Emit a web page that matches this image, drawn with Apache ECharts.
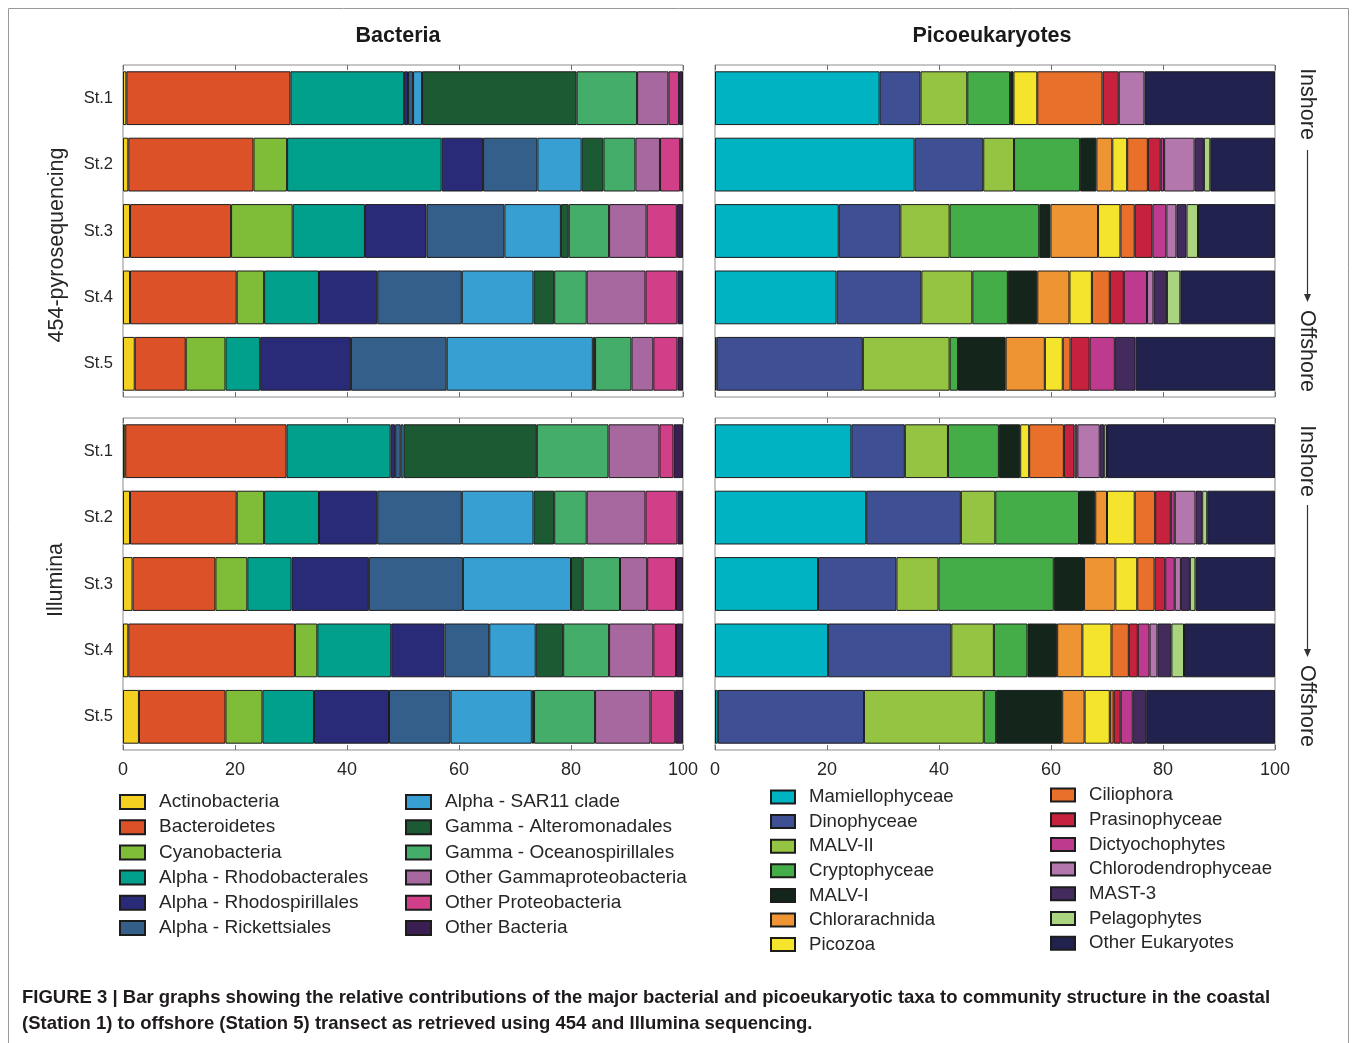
<!DOCTYPE html>
<html>
<head>
<meta charset="utf-8">
<title>Bacteria and picoeukaryote community composition</title>
<script src="https://cdn.jsdelivr.net/npm/echarts/dist/echarts.min.js"></script>
<style>
  html, body { margin: 0; padding: 0; background: #ffffff; }
  #chart { width: 1357px; height: 1043px; }
</style>
</head>
<body>
<div id="chart"></div>
<script>
// Stations along the transect (inshore -> offshore)
const stations = ['St.1', 'St.2', 'St.3', 'St.4', 'St.5'];

// Bacterial taxa and their colours
const bacTaxa = [
  'Actinobacteria', 'Bacteroidetes', 'Cyanobacteria', 'Alpha - Rhodobacterales',
  'Alpha - Rhodospirillales', 'Alpha - Rickettsiales', 'Alpha - SAR11 clade',
  'Gamma - Alteromonadales', 'Gamma - Oceanospirillales', 'Other Gammaproteobacteria',
  'Other Proteobacteria', 'Other Bacteria'
];
const bacColors = [
  '#f4d020', '#dd5128', '#7fbd38', '#00a08c', '#2a2b78', '#345f8a',
  '#389fd3', '#1b5a33', '#44ad69', '#a7679f', '#d13f89', '#3b1f52'
];

// Picoeukaryote taxa and their colours
const picoTaxa = [
  'Mamiellophyceae', 'Dinophyceae', 'MALV-II', 'Cryptophyceae', 'MALV-I',
  'Chlorarachnida', 'Picozoa', 'Ciliophora', 'Prasinophyceae', 'Dictyochophytes',
  'Chlorodendrophyceae', 'MAST-3', 'Pelagophytes', 'Other Eukaryotes'
];
const picoColors = [
  '#00b3c3', '#3f4f93', '#95c442', '#45ad47', '#14251b', '#ee9432',
  '#f4e42b', '#e8702b', '#c6223d', '#be3a8f', '#b376ad', '#432b5d',
  '#aad47f', '#22224f'
];

// Relative abundance (%), one row per station, columns follow bacTaxa
const bac454 = [
  [0.6, 29.3, 0, 20.3, 0.7, 0.9, 1.6, 27.6, 10.8, 5.6, 1.9, 0.7],
  [0.95, 22.35, 6.0, 27.6, 7.4, 9.7, 7.9, 3.9, 5.7, 4.4, 3.6, 0.5],
  [1.25, 18.05, 11.0, 12.9, 11.0, 13.9, 10.1, 1.4, 7.2, 6.7, 5.4, 1.1],
  [1.25, 19.05, 4.9, 9.8, 10.4, 15.1, 12.8, 3.7, 5.8, 10.5, 5.7, 1.0],
  [2.1, 9.1, 7.1, 6.2, 16.2, 17.1, 26.1, 0.4, 6.5, 3.9, 4.3, 1.0]
];
const bacIllumina = [
  [0.4, 28.8, 0, 18.6, 0.8, 1.0, 0.5, 23.8, 12.8, 9.1, 2.5, 1.7],
  [1.25, 19.05, 4.9, 9.8, 10.4, 15.1, 12.8, 3.7, 5.8, 10.5, 5.7, 1.0],
  [1.7, 14.8, 5.7, 7.9, 13.8, 16.8, 19.3, 2.1, 6.65, 4.85, 5.15, 1.25],
  [0.95, 29.75, 4.0, 13.2, 9.5, 8.0, 8.3, 4.9, 8.2, 7.9, 4.05, 1.25],
  [2.85, 15.45, 6.6, 9.2, 13.4, 11.0, 14.5, 0.4, 10.9, 9.9, 4.4, 1.4]
];

// Relative abundance (%), one row per station, columns follow picoTaxa
const pico454 = [
  [29.4, 7.3, 8.35, 7.65, 0.6, 0, 4.25, 11.65, 2.9, 0, 4.6, 0, 0, 23.3],
  [35.65, 12.25, 5.5, 11.8, 2.9, 2.85, 2.65, 3.7, 2.3, 0.6, 5.45, 1.65, 1.15, 11.55],
  [22.1, 11.0, 8.8, 16.0, 2.0, 8.5, 4.0, 2.55, 3.15, 2.5, 1.8, 1.8, 2.05, 13.75],
  [21.7, 15.15, 9.1, 6.35, 5.25, 5.75, 4.0, 3.2, 2.5, 4.15, 1.15, 2.4, 2.4, 16.9],
  [0.3, 26.1, 15.5, 1.5, 8.5, 7.0, 3.2, 1.4, 3.4, 4.5, 0, 3.7, 0, 24.9]
];
const picoIllumina = [
  [24.35, 9.55, 7.7, 9.1, 3.8, 0, 1.6, 6.2, 1.9, 0.5, 4.0, 0.8, 0.5, 30.0],
  [27.0, 16.9, 6.15, 14.95, 2.9, 2.1, 4.95, 3.65, 2.8, 0.7, 3.7, 1.2, 0.9, 12.1],
  [18.4, 14.0, 7.5, 20.6, 5.4, 5.6, 3.9, 3.1, 1.9, 1.7, 1.1, 1.6, 1.0, 14.2],
  [20.2, 22.0, 7.6, 6.0, 5.3, 4.5, 5.2, 3.1, 1.6, 2.1, 1.4, 2.5, 2.25, 16.25],
  [0.5, 26.1, 21.4, 2.2, 11.8, 4.0, 4.5, 0.7, 1.25, 2.15, 0, 2.4, 0, 23.0]
];

const FONT = '"Liberation Sans", Arial, Helvetica, sans-serif';
const TEXT = '#262626';

// Panel layout: [left, top] of each plot area
const panels = [
  { rows: bac454, names: bacTaxa, colors: bacColors, left: 123, top: 65, labels: false, stLabels: true },
  { rows: bacIllumina, names: bacTaxa, colors: bacColors, left: 123, top: 418, labels: true, stLabels: true },
  { rows: pico454, names: picoTaxa, colors: picoColors, left: 715, top: 65, labels: false, stLabels: false },
  { rows: picoIllumina, names: picoTaxa, colors: picoColors, left: 715, top: 418, labels: true, stLabels: false }
];
const PW = 560, PH = 332;

const grids = [], xAxes = [], yAxes = [], series = [];
const tickStyle = { show: true, inside: true, length: 5, lineStyle: { color: '#6e6e6e', width: 1 } };

panels.forEach((p, i) => {
  grids.push({
    left: p.left, top: p.top, width: PW, height: PH,
    show: true, borderColor: '#8c8c8c', borderWidth: 1, backgroundColor: 'transparent'
  });
  xAxes.push({
    type: 'value', gridIndex: i, min: 0, max: 100, interval: 20, position: 'bottom',
    axisLine: { show: false }, splitLine: { show: false }, axisTick: tickStyle,
    axisLabel: { show: p.labels, fontSize: 18, color: TEXT, fontFamily: FONT, margin: 11 }
  });
  yAxes.push({
    type: 'category', gridIndex: i, data: stations, inverse: true,
    axisLine: { show: false }, axisTick: { show: false }, splitLine: { show: false },
    axisLabel: { show: p.stLabels, fontSize: 16.5, color: TEXT, fontFamily: FONT, margin: 10, padding: [0, 0, 7, 0] }
  });
  p.names.forEach((name, k) => {
    series.push({
      name: name, type: 'bar', stack: 'panel' + i,
      xAxisIndex: i, yAxisIndex: i, barWidth: '81%',
      data: p.rows.map(r => (r[k] === 0 ? '-' : r[k])),
      itemStyle: { color: p.colors[k], borderColor: '#1c1c1c', borderWidth: 1 },
      emphasis: { disabled: true },
      silent: true
    });
  });
});
// Top edge tick marks for every panel
panels.forEach((p, i) => {
  xAxes.push({
    type: 'value', gridIndex: i, min: 0, max: 100, interval: 20, position: 'top',
    axisLine: { show: false }, splitLine: { show: false }, axisTick: tickStyle,
    axisLabel: { show: false }
  });
});

function legendBlock(names, left, top, iw, ih, fs, rowStep) {
  return {
    data: names, orient: 'vertical', left: left, top: top, padding: 0,
    itemWidth: iw, itemHeight: ih, itemGap: rowStep - 20, icon: 'rect',
    selectedMode: false,
    textStyle: { fontSize: fs, color: TEXT, fontFamily: FONT, lineHeight: 20, padding: [0, 0, 0, 9] }
  };
}

function vText(text, x, y, rot) {
  return {
    type: 'text', x: x, y: y, rotation: rot, silent: true,
    style: { text: text, fontSize: 21.5, fontFamily: FONT, fill: TEXT, align: 'center', verticalAlign: 'middle' }
  };
}
function arrow(x, y1, y2) {
  return [
    { type: 'line', silent: true, shape: { x1: x, y1: y1, x2: x, y2: y2 - 6 }, style: { stroke: '#333', lineWidth: 1.2 } },
    { type: 'polygon', silent: true, shape: { points: [[x - 3.5, y2 - 8], [x + 3.5, y2 - 8], [x, y2]] }, style: { fill: '#333' } }
  ];
}

const graphics = [
  { type: 'rect', silent: true, z: -10, shape: { x: 8.5, y: 8.5, width: 1340, height: 1040 }, style: { fill: 'none', stroke: '#9a9a9a', lineWidth: 1 } },
  { type: 'text', x: 398, y: 36, silent: true, style: { text: 'Bacteria', fontSize: 21.5, fontWeight: 'bold', fontFamily: FONT, fill: '#1a1a1a', align: 'center', verticalAlign: 'middle' } },
  { type: 'text', x: 992, y: 36, silent: true, style: { text: 'Picoeukaryotes', fontSize: 21.5, fontWeight: 'bold', fontFamily: FONT, fill: '#1a1a1a', align: 'center', verticalAlign: 'middle' } },
  vText('454-pyrosequencing', 57, 245, Math.PI / 2),
  vText('Illumina', 56, 580, Math.PI / 2),
  vText('Inshore', 1307, 104, -Math.PI / 2),
  vText('Offshore', 1307, 351, -Math.PI / 2),
  vText('Inshore', 1307, 461, -Math.PI / 2),
  vText('Offshore', 1307, 706, -Math.PI / 2),
  ...arrow(1307.5, 150, 302),
  ...arrow(1307.5, 505, 657),
  { type: 'text', x: 22, y: 998, silent: true, style: { text: 'FIGURE 3 | Bar graphs showing the relative contributions of the major bacterial and picoeukaryotic taxa to community structure in the coastal', fontSize: 18.5, fontWeight: 'bold', fontFamily: FONT, fill: '#1f1b1c', align: 'left', verticalAlign: 'middle' } },
  { type: 'text', x: 22, y: 1024, silent: true, style: { text: '(Station 1) to offshore (Station 5) transect as retrieved using 454 and Illumina sequencing.', fontSize: 18.5, fontWeight: 'bold', fontFamily: FONT, fill: '#1f1b1c', align: 'left', verticalAlign: 'middle' } }
];

const chart = echarts.init(document.getElementById('chart'), null, { renderer: 'canvas' });
chart.setOption({
  animation: false,
  backgroundColor: '#ffffff',
  textStyle: { fontFamily: FONT },
  grid: grids,
  xAxis: xAxes,
  yAxis: yAxes,
  legend: [
    legendBlock(bacTaxa.slice(0, 6), 119, 792, 25, 14, 19, 25.2),
    legendBlock(bacTaxa.slice(6), 405, 792, 25, 14, 19, 25.2),
    legendBlock(picoTaxa.slice(0, 7), 770, 787, 24, 13, 18.6, 24.6),
    legendBlock(picoTaxa.slice(7), 1050, 785, 24, 13, 18.6, 24.7)
  ],
  series: series,
  graphic: graphics
});
</script>
</body>
</html>
